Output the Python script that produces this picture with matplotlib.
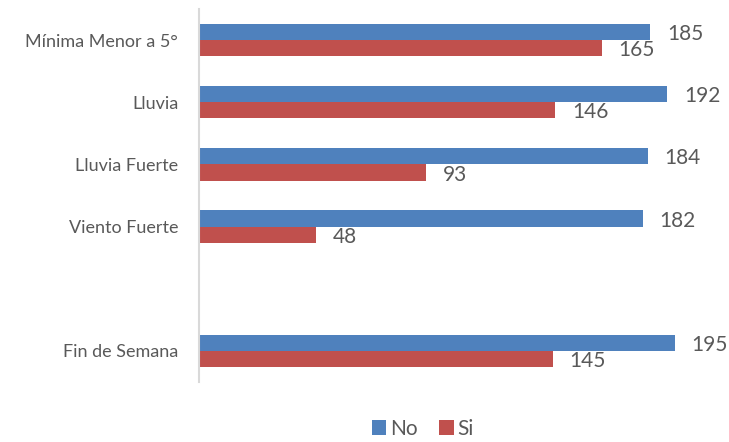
import numpy as np
import matplotlib.pyplot as plt

categories = ["Mínima Menor a 5°", "Lluvia", "Lluvia Fuerte", "Viento Fuerte", "", "Fin de Semana"]
no_values = [185, 192, 184, 182, None, 195]
si_values = [165, 146, 93, 48, None, 145]

blue = "#4F81BD"
red = "#C0504D"
text_gray = "#595959"

plt.rcParams["font.family"] = ["Lato", "DejaVu Sans"]

fig = plt.figure(figsize=(7.29, 4.42), dpi=100)
ax = fig.add_axes([199 / 729, 60 / 442, 521 / 729, 373 / 442])

y = np.arange(len(categories))
h = 0.26


def draw_series(vals, offset, color, label):
    ys = [yy + offset for yy, v in zip(y, vals) if v is not None]
    vs = [v for v in vals if v is not None]
    bars = ax.barh(ys, vs, height=h, color=color, label=label)
    for yy, v in zip(ys, vs):
        ax.annotate(str(v), (v, yy), xytext=(12, -1.5), textcoords="offset points",
                    va="center", ha="left", fontsize=15, color=text_gray)
    return bars


draw_series(no_values, -h / 2, blue, "No")
draw_series(si_values, h / 2, red, "Si")

ax.set_ylim(len(categories) - 0.5, -0.5)
ax.set_xlim(0, 521 / 2.44)
ax.set_yticks(y)
ax.set_yticklabels(categories, fontsize=13, color=text_gray)
ax.tick_params(axis="y", length=0, pad=15)
ax.set_xticks([])
for side in ["top", "right", "bottom"]:
    ax.spines[side].set_visible(False)
ax.spines["left"].set_color("#D9D9D9")
ax.spines["left"].set_linewidth(1.5)

fig.legend(loc="lower center", bbox_to_anchor=(0.58, -0.035), ncol=2, frameon=False,
           fontsize=15, handlelength=0.7, handleheight=0.7, handletextpad=0.2,
           columnspacing=1.0, labelcolor=text_gray)

fig.savefig("out.png", dpi=100)
